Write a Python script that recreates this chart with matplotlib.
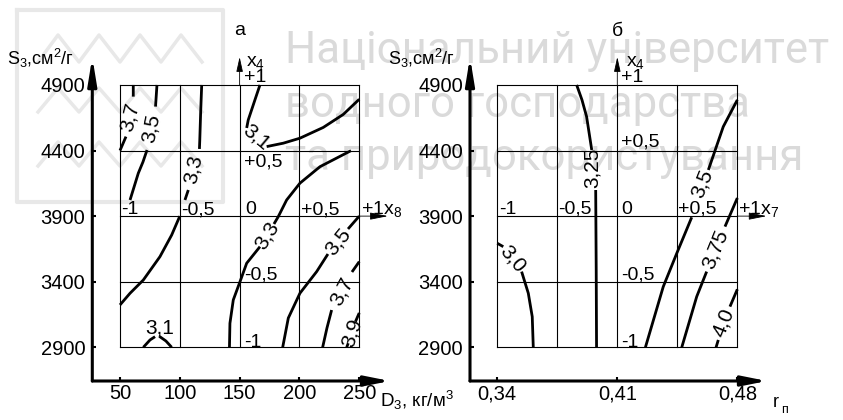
import numpy as np
import matplotlib
matplotlib.use('Agg')
import matplotlib.pyplot as plt

plt.rcParams['font.family'] = ['Liberation Sans', 'DejaVu Sans']
plt.rcParams['mathtext.fontset'] = 'custom'
plt.rcParams['mathtext.rm'] = 'Liberation Sans'
plt.rcParams['mathtext.it'] = 'Liberation Sans:italic'
plt.rcParams['mathtext.default'] = 'regular'

nan = np.nan

# ---- panel a: D3 (kg/m3) vs S3 (cm2/g)
d_ticks = [50, 100, 150, 200, 250]
s_ticks = [2900, 3400, 3900, 4400, 4900]
code_x8 = ['-1', '-0,5', '0', '+0,5', '+1x$_8$']

a37_top_x = [61.1, 61.1, nan, 55.0, 50.0]
a37_top_y = [4900, 4811, nan, 4506, 4400]
a35_top_x = [80.9, 79.7, nan, 72.6, 69.2, 65.3, 58.4]
a35_top_y = [4900, 4735, nan, 4404, 4313, 4227, 4023]
a33_top_x = [118.3, 117.4, 116.7, 116.4, nan, 107.1, 104.3]
a33_top_y = [4900, 4684, 4481, 4412, nan, 4099, 4023]
a31_top_x = [167.0, 162.8, 157.2, 155.9, nan, 172.6, 186.5, 200.4, 219.9, 236.6, 250.0]
a31_top_y = [4900, 4786, 4633, 4572, nan, 4430, 4456, 4494, 4576, 4675, 4791]
a33_low_x = [243.1, 217.2, 200.4, 189.3, 182.3, 178.7, nan, 167.0, 155.9, 150.3, 144.7, 141.9, 141.5]
a33_low_y = [4399, 4277, 4151, 4023, 3896, 3840, nan, 3667, 3541, 3400, 3261, 3083, 2900]
a_left_x = [50, 58.4, 69.5, 83.4, 93.2, 100]
a_left_y = [3223, 3312, 3413, 3591, 3756, 3900]
a31_low_x = [69.5, 75.1, 79.3, nan, 82.8, 88.4, 93.2]
a31_low_y = [2900, 2956, 2981, nan, 2984, 2948, 2900]
a35_low_x = [250, 240.6, nan, 223.8, 214.4, 200.4, 190.7, 186.0]
a35_low_y = [3900, 3802, nan, 3611, 3477, 3312, 3123, 2900]
a37_low_x = [250, 243.9, nan, 226.9, 223.0, 219.4]
a37_low_y = [3553, 3474, nan, 3184, 3047, 2900]
a39_x = [250, 246.8, nan, 240.8, 239.5]
a39_y = [3162, 3095, nan, 2931, 2900]

a_lab_text = ['3,7', '3,5', '3,3', '3,1', '3,3', '3,5', '3,7', '3,9', '3,1']
a_lab_x = [58.1, 76.2, 111.8, 163.7, 172.9, 232.2, 235.4, 243.8, 83.4]
a_lab_y = [4658, 4570, 4256, 4504, 3754, 3707, 3329, 3013, 3047]
a_lab_rot = [76, 79, 78, -40, 58, 51, 62, 72, 0]

# ---- panel б: rп vs S3
r_ticks = [0.34, 0.41, 0.48]
r_grid = [0.34, 0.375, 0.41, 0.445, 0.48]
code_x7 = ['-1', '-0,5', '0', '+0,5', '+1x$_7$']
code_x4 = ['-1', '-0,5', '+0,5', '+1']
code_x4_s = [2900, 3400, 4400, 4900]

b325_x = [0.3863, 0.3894, 0.3921, 0.3951, nan, 0.3974, 0.3977, 0.3979]
b325_y = [4900, 4786, 4658, 4404, nan, 4099, 3489, 2900]
b30_x = [0.3400, 0.3435, nan, 0.3542, 0.3581, 0.3604, 0.3610]
b30_y = [3693, 3667, nan, 3477, 3312, 3133, 2900]
b35_x = [0.4800, 0.4718, 0.4631, nan, 0.4534, 0.4447, 0.4368, 0.4264]
b35_y = [4786, 4582, 4252, nan, 3891, 3617, 3362, 2900]
b375_x = [0.4800, 0.4728, nan, 0.4621, 0.4563, 0.4476]
b375_y = [4038, 3820, nan, 3477, 3286, 2900]
b40_x = [0.4800, 0.4757, nan, 0.4689, 0.4676]
b40_y = [3342, 3210, nan, 2956, 2900]

b_lab_text = ['3,25', '3,0', '3,5', '3,75', '4,0']
b_lab_x = [0.3952, 0.3492, 0.4594, 0.4675, 0.4722]
b_lab_y = [4267, 3573, 4145, 3648, 3085]
b_lab_rot = [90, -50, 68, 68, 68]

FS = 14
FS_LAB = 15
PT = 0.72  # points per pixel at dpi 100

fig = plt.figure(figsize=(8.43, 4.2), dpi=100)


def px_axes(l, r, t, b):
    return fig.add_axes([l / 843, (420 - b) / 420, (r - l) / 843, (b - t) / 420])


# watermark layer
bg = fig.add_axes([0, 0, 1, 1], zorder=-5)
bg.set_xlim(0, 843)
bg.set_ylim(420, 0)
bg.axis('off')
wm = '#dadada'
bg.plot([17, 223, 223, 17, 17], [10, 10, 202, 202, 10], color='#e8e8e8', lw=3)
zz_x = [38, 58, 79, 99, 120, 140, 161, 181, 202]
for top, bot in [(35, 62), (88, 112), (142, 166)]:
    bg.plot(zz_x, [bot, top] * 4 + [bot], color='#e8e8e8', lw=2.5)
for txt, yb in [('Національний університет', 63), ('водного господарства', 117),
                ('та природокористування', 170)]:
    bg.text(285, yb, txt, fontsize=31.5, color=wm, family='Roboto', va='baseline', ha='left')


def arrow(ax, x0, y0, x1, y1, lw, hl, hw):
    ax.annotate('', xy=(x1, y1), xytext=(x0, y0), annotation_clip=False,
                arrowprops=dict(arrowstyle='-|>,head_length=%g,head_width=%g' % (hl, hw),
                                lw=lw, color='black', shrinkA=0, shrinkB=0,
                                mutation_scale=10))


def put(ax, txt, x, y, dx, dy):
    ax.annotate(txt, (x, y), xytext=(dx * PT, dy * PT), textcoords='offset points',
                ha='left', va='baseline', fontsize=FS, annotation_clip=False)


def setup(ax, xlim, xticks, xticklabels):
    ax.set_xlim(*xlim)
    ax.set_ylim(2643, 5113)
    ax.patch.set_visible(False)
    for sp in ax.spines.values():
        sp.set_visible(False)
    ax.set_xticks(xticks)
    ax.set_xticklabels(xticklabels)
    ax.set_yticks(s_ticks)
    ax.tick_params(direction='in', length=3, width=1.5, labelsize=14.5)
    ax.tick_params(axis='x', pad=2.5)
    ax.tick_params(axis='y', pad=5)
    arrow(ax, xlim[0], 2643, xlim[0], 5113, 2.2, 1.6, 0.26)
    arrow(ax, xlim[0], 2643, xlim[1], 2643, 2.2, 1.5, 0.3)


def grid(ax, xs):
    for x in xs:
        ax.plot([x, x], [s_ticks[0], s_ticks[-1]], color='black', lw=0.8)
    for y in s_ticks:
        ax.plot([xs[0], xs[-1]], [y, y], color='black', lw=0.8)


# ---------------- panel a
ax = px_axes(92.3, 390, 57, 381)
setup(ax, (26.85, 275.7), d_ticks, [str(v) for v in d_ticks])
grid(ax, d_ticks)
arrow(ax, 150, 4900, 150, 5113, 0.6, 0.9, 0.2)
arrow(ax, 250, 3900, 274.0, 3900, 0.6, 1.1, 0.22)
for cx, cy in [(a37_top_x, a37_top_y), (a35_top_x, a35_top_y), (a33_top_x, a33_top_y),
               (a31_top_x, a31_top_y), (a33_low_x, a33_low_y), (a_left_x, a_left_y),
               (a31_low_x, a31_low_y), (a35_low_x, a35_low_y), (a37_low_x, a37_low_y),
               (a39_x, a39_y)]:
    ax.plot(cx, cy, color='black', lw=2.0, solid_capstyle='butt')
for t, x, y, r in zip(a_lab_text, a_lab_x, a_lab_y, a_lab_rot):
    ax.text(x, y, t, rotation=r, rotation_mode='anchor', ha='center', va='center', fontsize=FS_LAB)
for t, x, dx in zip(code_x8, d_ticks, [1, 1.5, 5.5, 1.4, 1.4]):
    put(ax, t, x, 3900, dx, 1.7)
for t, y, dy in zip(code_x4, code_x4_s, [0.6, 2.3, -16, 3]):
    put(ax, t, 150, y, 4.5, dy)
put(ax, 'x$_4$', 150, 4900, 6.5, 19)
ax.annotate('а', (150, 4900), xytext=(0, 50 * PT), textcoords='offset points',
            ha='center', va='baseline', fontsize=FS)

# ---------------- panel б
ax = px_axes(470, 767, 57, 381)
setup(ax, (0.3241, 0.4973), r_ticks, ['0,34', '0,41', '0,48'])
grid(ax, r_grid)
arrow(ax, 0.41, 4900, 0.41, 5113, 0.6, 0.9, 0.2)
arrow(ax, 0.48, 3900, 0.4971, 3900, 0.6, 1.1, 0.22)
for cx, cy in [(b325_x, b325_y), (b30_x, b30_y), (b35_x, b35_y), (b375_x, b375_y),
               (b40_x, b40_y)]:
    ax.plot(cx, cy, color='black', lw=2.0, solid_capstyle='butt')
for t, x, y, r in zip(b_lab_text, b_lab_x, b_lab_y, b_lab_rot):
    ax.text(x, y, t, rotation=r, rotation_mode='anchor', ha='center', va='center', fontsize=FS_LAB)
for t, x, dx in zip(code_x7, r_grid, [2, 0.5, 3.5, 0.5, 0.5]):
    put(ax, t, x, 3900, dx, 2.3)
for t, y, dy in zip(code_x4, code_x4_s, [0.6, 2.3, 4, 3.3]):
    put(ax, t, 0.41, y, 4, dy)
put(ax, 'x$_4$', 0.41, 4900, 9, 19)
ax.annotate('б', (0.41, 4900), xytext=(0, 49 * PT), textcoords='offset points',
            ha='center', va='baseline', fontsize=FS)

# axis titles
fig.text(7 / 843, 1 - 65 / 420, 'S$_3$,см$^2$/г', fontsize=13, va='baseline')
fig.text(388 / 843, 1 - 65 / 420, 'S$_3$,см$^2$/г', fontsize=13, va='baseline')
fig.text(380 / 843, 1 - 407 / 420, 'D$_3$, кг/м$^3$', fontsize=13.5, va='baseline')
fig.text(773 / 843, 1 - 407 / 420, 'r', fontsize=13, va='baseline')
fig.text(781 / 843, 1 - 413 / 420, 'п', fontsize=9, va='baseline')

fig.savefig('out.png', dpi=100)
